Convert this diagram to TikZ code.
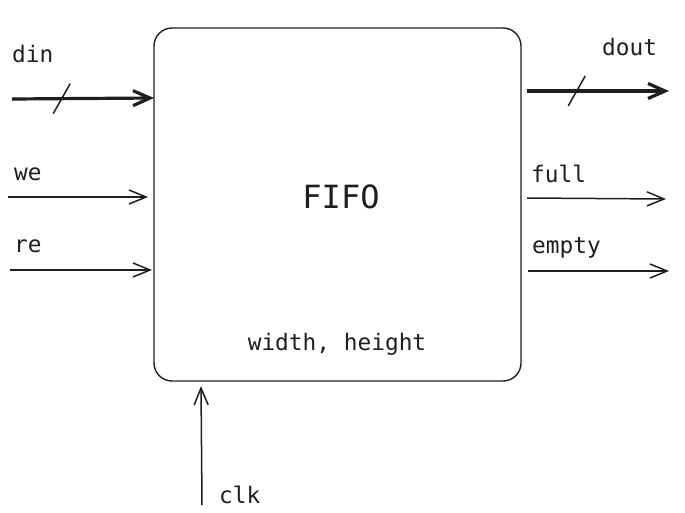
\documentclass[tikz,border=0pt]{standalone}
\usepackage{fontspec}
\setmainfont{DejaVu Sans Mono}
\usetikzlibrary{arrows.meta,calc}
\definecolor{ink}{HTML}{1E1E1E}

\begin{document}
\begin{tikzpicture}[x=1pt,y=-1pt,color=ink,
  sig/.style={-{Straight Barb[length=17pt,width=14pt]},line width=1.5pt},
  bus/.style={-{Straight Barb[length=17pt,width=15pt]},line width=3.2pt},
  lbl/.style={font=\fontsize{22.8}{27}\selectfont,inner sep=0pt,anchor=base west}]

\useasboundingbox (0,0) rectangle (685,512);

\node[draw,line width=1.4pt,rounded corners=18pt,minimum width=367pt,minimum height=353pt,inner sep=0pt] (fifo) at (337.5,204.5) {};

\node[lbl,anchor=base,font=\fontsize{32}{38}\selectfont] (title) at (341,208) {FIFO};
\node[lbl,anchor=base] (params) at (337,350) {width, height};

% inputs
\node[lbl] (din) at (12,62) {din};
\node[lbl] (we) at (14,180) {we};
\node[lbl] (re) at (14,252) {re};

\coordinate (din-a) at (12,99);
\coordinate (din-b) at (154,98);
\coordinate (we-a) at (8,197);
\coordinate (we-b) at (148,197);
\coordinate (re-a) at (10,270);
\coordinate (re-b) at (152,270);

\draw[bus] (din-a) -- (din-b);
\draw[line width=1.5pt] ($(din-a)!0.35!(din-b)$) ++(-8.5,15) -- ++(17,-30);
\draw[sig] (we-a) -- (we-b);
\draw[sig] (re-a) -- (re-b);

% outputs
\node[lbl] (dout) at (602,55) {dout};
\node[lbl] (full) at (531,182) {full};
\node[lbl] (empty) at (532,253) {empty};

\coordinate (dout-a) at (527,91);
\coordinate (dout-b) at (669,91);
\coordinate (full-a) at (527,198);
\coordinate (full-b) at (666,199);
\coordinate (empty-a) at (528,271);
\coordinate (empty-b) at (669,271);

\draw[bus] (dout-a) -- (dout-b);
\draw[line width=1.5pt] ($(dout-a)!0.35!(dout-b)$) ++(-8.5,15) -- ++(17,-30);
\draw[sig] (full-a) -- (full-b);
\draw[sig] (empty-a) -- (empty-b);

% clock
\node[lbl] (clk) at (219,503) {clk};
\coordinate (clk-a) at (202,505);
\coordinate (clk-b) at (201,386);
\draw[sig] (clk-a) -- (clk-b);

\end{tikzpicture}
\end{document}
